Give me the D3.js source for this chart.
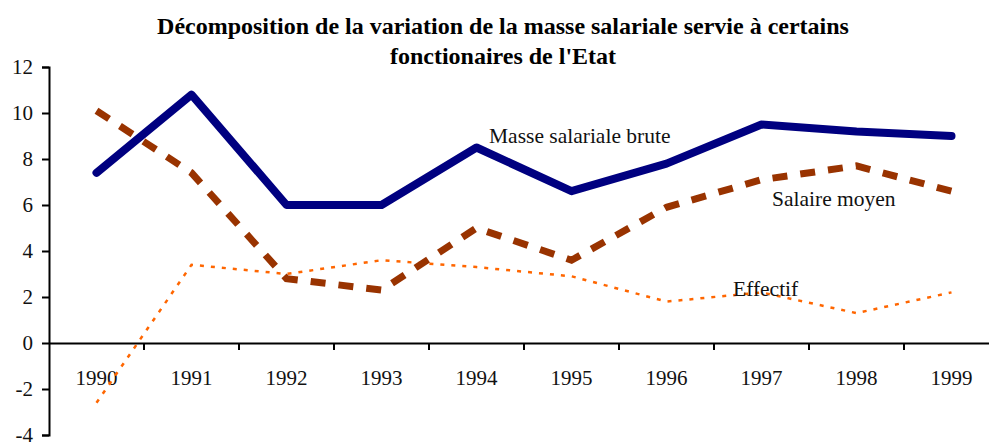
<!DOCTYPE html>
<html>
<head>
<meta charset="utf-8">
<script src="https://cdn.jsdelivr.net/npm/d3@7"></script>
<style>
  body { margin: 0; background: #fff; }
  svg { font-family: "Liberation Serif", "Times New Roman", serif; }
</style>
</head>
<body>
<div id="chart"></div>
<script>
// donnees
var annees = ['1990', '1991', '1992', '1993', '1994', '1995', '1996', '1997', '1998', '1999']
var masseBrute = [7.4, 10.8, 6.0, 6.0, 8.5, 6.6, 7.8, 9.5, 9.2, 9.0]
var salaireMoyen = [10.1, 7.4, 2.8, 2.3, 5.0, 3.6, 5.9, 7.1, 7.7, 6.6]
var effectif = [-2.6, 3.4, 3.0, 3.6, 3.3, 2.9, 1.8, 2.2, 1.3, 2.2]
var yTicks = [-4, -2, 0, 2, 4, 6, 8, 10, 12]

var w = 989, h = 443

var svg = d3.select('#chart').append('svg')
  .attr('width', w)
  .attr('height', h)

var x = d3.scaleBand()
  .domain(annees)
  .range([49, 49 + 95 * annees.length])

var y = d3.scaleLinear()
  .domain([-4, 12])
  .range([435, 67])

// titre
svg.append('text')
  .attr('x', 503).attr('y', 34)
  .attr('text-anchor', 'middle')
  .style('font-weight', 'bold').style('font-size', '24px')
  .text("Décomposition de la variation de la masse salariale servie à certains")
svg.append('text')
  .attr('x', 503).attr('y', 64)
  .attr('text-anchor', 'middle')
  .style('font-weight', 'bold').style('font-size', '24px')
  .text("fonctionaires de l'Etat")

// axe y
var yAxis = svg.append('g')
  .attr('transform', 'translate(49,0)')
  .call(d3.axisLeft(y).tickValues(yTicks).tickSize(7).tickPadding(9)
    .tickFormat(function(d) { return d < 0 ? '-' + Math.abs(d) : d }))
yAxis.select('.domain').attr('stroke', '#000').attr('stroke-width', 2)
yAxis.selectAll('.tick line').attr('stroke-width', 2)
yAxis.selectAll('text').style('font-size', '21px').style('font-family', 'Liberation Serif').attr('fill', '#111')

// axe x sur le zero
var xAxis = svg.append('g')
  .attr('transform', 'translate(0,' + y(0) + ')')
  .call(d3.axisBottom(x).tickSize(0).tickPadding(27))
xAxis.select('.domain').attr('stroke', '#000').attr('stroke-width', 2)
xAxis.selectAll('text').style('font-size', '21px').style('font-family', 'Liberation Serif').attr('fill', '#111')

// petits traits entre les categories
svg.selectAll('.xtick')
  .data(annees.slice(1))
  .enter().append('line')
  .attr('class', 'xtick')
  .attr('x1', function(d) { return x(d) })
  .attr('x2', function(d) { return x(d) })
  .attr('y1', y(0))
  .attr('y2', y(0) + 7)
  .attr('stroke', '#000')
  .attr('stroke-width', 2)

var line = d3.line()
  .x(function(d, i) { return x(annees[i]) + x.bandwidth() / 2 })
  .y(function(d) { return y(d) })

svg.append('path')
  .datum(effectif)
  .attr('d', line)
  .attr('fill', 'none')
  .attr('stroke', '#ff6600')
  .attr('stroke-width', 2.5)
  .attr('stroke-dasharray', '4,7')

svg.append('path')
  .datum(salaireMoyen)
  .attr('d', line)
  .attr('fill', 'none')
  .attr('stroke', '#993300')
  .attr('stroke-width', 7)
  .attr('stroke-dasharray', '15,13')

svg.append('path')
  .datum(masseBrute)
  .attr('d', line)
  .attr('fill', 'none')
  .attr('stroke', '#000080')
  .attr('stroke-width', 8)
  .attr('stroke-linejoin', 'round')
  .attr('stroke-linecap', 'round')

// etiquettes des series
var etiquettes = [
  { t: 'Masse salariale brute', x: 489, y: 143 },
  { t: 'Salaire moyen', x: 772, y: 206 },
  { t: 'Effectif', x: 733, y: 296 }
]
svg.selectAll('.lab')
  .data(etiquettes)
  .enter().append('text')
  .attr('class', 'lab')
  .attr('x', function(d) { return d.x })
  .attr('y', function(d) { return d.y })
  .style('font-size', '21.5px')
  .attr('fill', '#111')
  .text(function(d) { return d.t })
</script>
</body>
</html>
